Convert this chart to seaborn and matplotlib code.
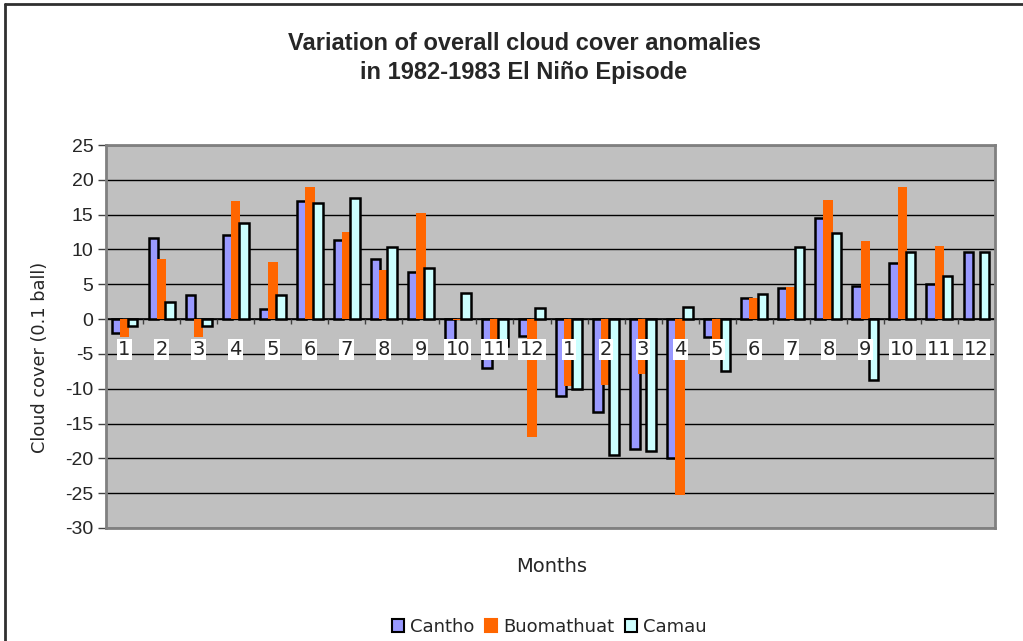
import numpy as np
import pandas as pd
import matplotlib
matplotlib.use("Agg")
import matplotlib.pyplot as plt
from matplotlib.patches import Patch
from matplotlib.lines import Line2D
import seaborn as sns

# ---- data ----
months = ["1", "2", "3", "4", "5", "6", "7", "8", "9", "10", "11", "12",
          "1", "2", "3", "4", "5", "6", "7", "8", "9", "10", "11", "12"]
stations = ["Cantho", "Buomathuat", "Camau"]
cantho = [-2.0, 11.6, 3.4, 12.1, 1.4, 17.0, 11.4, 8.7, 6.8, -4.0, -7.0, -2.4,
          -11.0, -13.4, -18.7, -20.0, -2.6, 3.1, 4.4, 14.5, 4.8, 8.0, 5.0, 9.6]
buomathuat = [-2.6, 8.7, -2.6, 16.9, 8.2, 19.0, 12.5, 7.1, 15.3, -0.2, -3.0, -17.0,
              -9.6, -9.5, -7.9, -25.2, -3.0, 3.1, 4.6, 17.1, 11.2, 19.0, 10.5, 0.0]
camau = [-1.0, 2.5, -1.0, 13.8, 3.5, 16.6, 17.4, 10.4, 7.4, 3.7, -3.8, 1.6,
         -10.0, -19.5, -19.0, 1.8, -7.5, 3.6, 10.4, 12.3, -8.7, 9.7, 6.2, 9.6]
yticks = [25, 20, 15, 10, 5, 0, -5, -10, -15, -20, -25, -30]

colors = {"Cantho": "#9999FF", "Buomathuat": "#FF6600", "Camau": "#CCFFFF"}
edges = {"Cantho": "black", "Buomathuat": "none", "Camau": "black"}

idx = list(range(len(months)))
df = pd.DataFrame({
    "idx": idx * 3,
    "station": ["Cantho"] * 24 + ["Buomathuat"] * 24 + ["Camau"] * 24,
    "value": cantho + buomathuat + camau,
})

sns.set_style("white")
plt.rcParams["font.family"] = ["DejaVu Sans"]

fig = plt.figure(figsize=(10.23, 6.41), dpi=100)
ax = fig.add_axes([106 / 1023, 1 - 528 / 641, (995 - 106) / 1023, (528 - 145) / 641])
ax.set_facecolor("#C0C0C0")

sns.barplot(data=df, x="idx", y="value", hue="station", hue_order=stations,
            order=idx, palette=colors, width=0.66, dodge=True, errorbar=None,
            saturation=1, ax=ax, legend=False, zorder=3)

bw = 0.26
for cont, st in zip(ax.containers, stations):
    for p in cont.patches:
        x0, w = p.get_x(), p.get_width()
        p.set_x(x0 + w / 2 - bw / 2)
        p.set_width(bw)
        p.set_facecolor(colors[st])
        if edges[st] == "none":
            p.set_edgecolor("none")
            p.set_linewidth(0)
        else:
            p.set_edgecolor("black")
            p.set_linewidth(1.8)

ax.set_xlim(-0.5, 23.5)
ax.set_ylim(-30, 25)
ax.set_yticks(yticks)
ax.set_yticklabels([str(v) for v in yticks], fontsize=14, family="Liberation Sans")
ax.yaxis.grid(True, color="black", linewidth=1.0, zorder=0)
ax.set_axisbelow(True)
ax.tick_params(axis="y", left=True, length=6, width=1, color="#404040", pad=3)
ax.set_xticks([])
ax.set_xlabel("")
ax.set_ylabel("")
ax.axhline(0, color="black", linewidth=1.2, zorder=2)
ax.vlines(np.array(idx[1:]) - 0.5, -0.7, 0, color="#404040", linewidth=1, zorder=2)

for sp in ax.spines.values():
    sp.set_visible(True)
    sp.set_color("#808080")
    sp.set_linewidth(2)

for i, m in enumerate(months):
    ax.text(i, -4.4, m, ha="center", va="center", fontsize=14, zorder=4,
            bbox=dict(boxstyle="square,pad=0.06", facecolor="white", edgecolor="none"))

fig.text(524 / 1023, 1 - 58 / 641,
         "Variation of overall cloud cover anomalies\nin 1982-1983 El Niño Episode",
         ha="center", va="center", fontsize=17, fontweight="bold",
         family="Liberation Sans", linespacing=1.3)
fig.text(40 / 1023, 1 - 357 / 641, "Cloud cover (0.1 ball)", rotation=90,
         ha="center", va="center", fontsize=12.8)
fig.text(552 / 1023, 1 - 567 / 641, "Months", ha="center", va="center", fontsize=14)

handles = [Patch(facecolor=colors[s],
                 edgecolor=("black" if edges[s] != "none" else colors[s]),
                 linewidth=1.5, label=s) for s in stations]
fig.legend(handles=handles, loc="center", bbox_to_anchor=(549 / 1023, 1 - 627 / 641),
           ncol=3, frameon=False, fontsize=13, handlelength=0.7, handleheight=0.7,
           handletextpad=0.3, columnspacing=0.6)

fig.add_artist(Line2D([5 / 1023, 5 / 1023], [0, 1 - 4 / 641], transform=fig.transFigure,
                      color="#303030", linewidth=2))
fig.add_artist(Line2D([5 / 1023, 1], [1 - 4 / 641, 1 - 4 / 641], transform=fig.transFigure,
                      color="#303030", linewidth=2))

fig.savefig("out.png", dpi=100)
